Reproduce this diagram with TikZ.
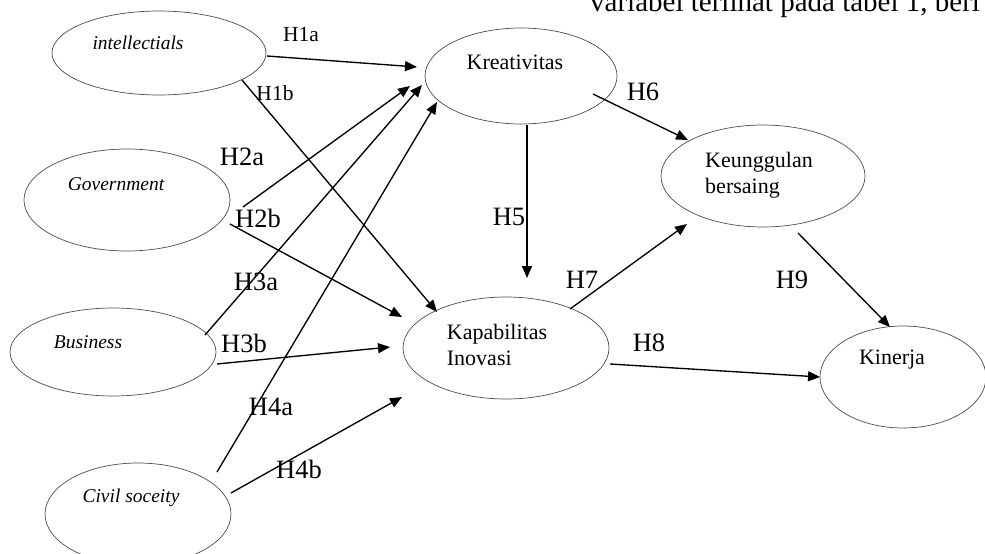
\documentclass[tikz,border=0pt]{standalone}
\usepackage{fontspec}
\setmainfont{Liberation Serif}
\usetikzlibrary{shapes.geometric, arrows.meta, calc}

\begin{document}
\begin{tikzpicture}[
    x=1pt, y=-1pt,
    var/.style={
        ellipse,
        draw=black!70,
        line width=0.7pt,
        inner sep=0pt
    },
    vartext/.style={font=\fontsize{22}{26}\selectfont, align=left},
    actortext/.style={font=\fontsize{19.5}{23}\selectfont\itshape},
    hyp/.style={font=\fontsize{26.5}{30}\selectfont, inner sep=0pt},
    hypsmall/.style={font=\fontsize{21.5}{25}\selectfont, inner sep=0pt},
    arrow/.style={-{Triangle[length=12pt,width=10pt]}, line width=1.35pt}
]
    \useasboundingbox (0,0) rectangle (985,554);
    \clip (0,0) rectangle (985,554);

    % Text above the figure
    \node[anchor=base west, inner sep=0pt, font=\fontsize{29}{33}\selectfont]
        (caption) at (590,12) {variabel terlihat pada tabel 1, beri};

    % Actors (left column)
    \node[var, minimum width=214pt, minimum height=84pt,
          label={[actortext, shift={(-21,-10)}]center:intellectials}] (intel) at (159,53) {};
    \node[var, minimum width=206pt, minimum height=102pt,
          label={[actortext, shift={(-11,-16)}]center:Government}] (govt) at (127,200) {};
    \node[var, minimum width=206pt, minimum height=88pt,
          label={[actortext, shift={(-25,-10)}]center:Business}] (business) at (113,352) {};
    \node[var, minimum width=186pt, minimum height=102pt,
          label={[actortext, shift={(-7,-16)}]center:Civil soceity}] (civil) at (138,514) {};

    % Constructs
    \node[var, minimum width=192pt, minimum height=96pt,
          label={[vartext, shift={(-6,-14)}]center:Kreativitas}] (kreat) at (521,76) {};
    \node[var, minimum width=206pt, minimum height=102pt,
          label={[vartext, shift={(-9,-3)}]center:Kapabilitas\\Inovasi}] (kapab) at (506,348) {};
    \node[var, minimum width=204pt, minimum height=102pt,
          label={[vartext, shift={(-4,-1)}]center:Keunggulan\\bersaing}] (keung) at (763,176) {};
    \node[var, minimum width=166pt, minimum height=102pt,
          label={[vartext, shift={(-11,-17)}]center:Kinerja}] (kinerja) at (903,377) {};

    % Paths
    \foreach \a/\ax/\ay/\b/\bx/\by in {
        intel/108/3/kreat/-104/-9,
        intel/83/27/kapab/-69/-36,
        govt/116/7/kreat/-111/10,
        govt/103/24/kapab/-104/-31,
        business/92/-17/kreat/-99/9,
        business/104/12/kapab/-116/-1,
        civil/79/-42/kreat/-84/26,
        civil/93/-21/kapab/-104/49,
        kreat/6/49/kapab/21/-70,
        kreat/72/18/keung/-75/-36,
        kapab/64/-39/keung/-76/48,
        kapab/104/16/kinerja/-83/0,
        keung/35/57/kinerja/-13/-50} {
        \draw[arrow] ($(\a)+(\ax,\ay)$) -- ($(\b)+(\bx,\by)$);
    }

    % Hypothesis labels
    \node[hypsmall] (h1a) at (301,35) {H1a};
    \node[hypsmall] (h1b) at (275,93) {H1b};
    \node[hyp] (h2a) at (242,157) {H2a};
    \node[hyp] (h2b) at (258,218) {H2b};
    \node[hyp] (h3a) at (256,282) {H3a};
    \node[hyp] (h3b) at (244,343) {H3b};
    \node[hyp] (h4a) at (271,407) {H4a};
    \node[hyp] (h4b) at (299,469) {H4b};
    \node[hyp] (h5) at (509,217) {H5};
    \node[hyp] (h6) at (643,92) {H6};
    \node[hyp] (h7) at (582,280) {H7};
    \node[hyp] (h8) at (649,343) {H8};
    \node[hyp] (h9) at (792,280) {H9};

\end{tikzpicture}
\end{document}
